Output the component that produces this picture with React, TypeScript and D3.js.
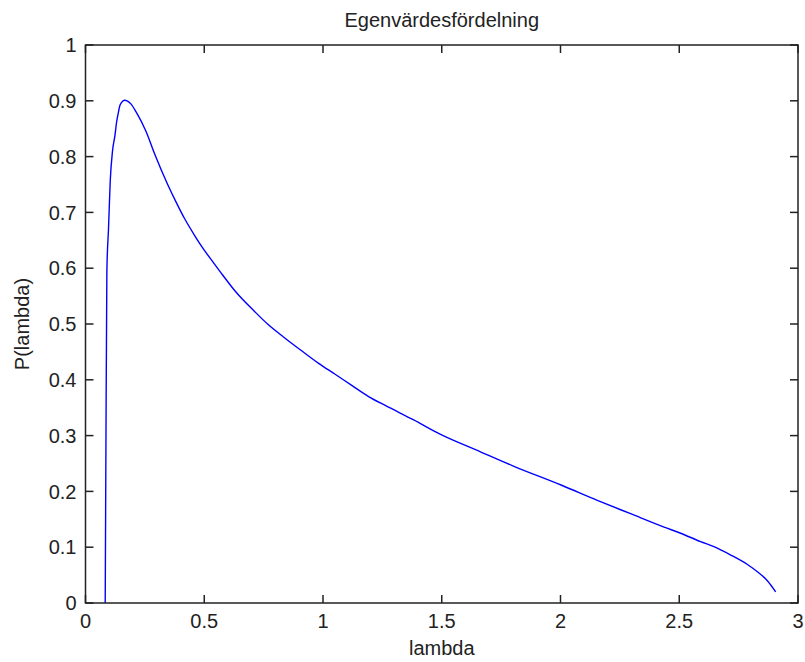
import * as d3 from 'd3';

// eigenvalue distribution
const LAMBDA = [
  0.083, 0.086, 0.09, 0.097, 0.104, 0.114, 0.124, 0.131, 0.138, 0.145, 0.156, 0.166, 0.175,
  0.192, 0.213, 0.255, 0.29, 0.346, 0.382, 0.417, 0.459, 0.494, 0.537, 0.579, 0.628, 0.713,
  0.769, 0.839, 0.91, 0.98, 1.051, 1.121, 1.192, 1.262, 1.382, 1.495, 1.663, 1.804, 2.005,
  2.155, 2.295, 2.436, 2.506, 2.59, 2.646, 2.717, 2.787, 2.829, 2.871, 2.906,
];
const P = [
  0, 0.28, 0.595, 0.672, 0.755, 0.811, 0.838, 0.862, 0.878, 0.892, 0.899, 0.901, 0.9,
  0.894, 0.88, 0.845, 0.806, 0.75, 0.718, 0.689, 0.659, 0.636, 0.611, 0.587, 0.56, 0.522,
  0.499, 0.475, 0.452, 0.43, 0.41, 0.39, 0.37, 0.354, 0.328, 0.302, 0.271, 0.245, 0.211,
  0.184, 0.16, 0.136, 0.125, 0.11, 0.101, 0.086, 0.069, 0.056, 0.04, 0.02,
];
const X_TICKS = [0, 0.5, 1, 1.5, 2, 2.5, 3];
const Y_TICKS = [0, 0.1, 0.2, 0.3, 0.4, 0.5, 0.6, 0.7, 0.8, 0.9, 1];

const TITLE = 'Egenvärdesfördelning';
const X_LABEL = 'lambda';
const Y_LABEL = 'P(lambda)';

const W = 805;
const H = 662;
const FONT = 'Liberation Sans, Arial, sans-serif';
const INK = '#222';

export default function App() {
  const x = d3.scaleLinear().domain([0, 3]).range([85.5, 798]);
  const y = d3.scaleLinear().domain([0, 1]).range([603, 45]);
  const [x0, x1] = x.range();
  const [y0, y1] = y.range();

  const line = d3
    .line<number>()
    .x((_, i) => x(LAMBDA[i]))
    .y((d) => y(d))
    .curve(d3.curveMonotoneX);

  const fmt = (v: number) => String(+v.toFixed(1));
  const tick = 8;

  return (
    <div style={{ position: 'absolute', left: 0, top: 0 }}>
      <svg width={W} height={H} style={{ display: 'block', background: '#fff' }}>
        <rect width={W} height={H} fill="#fff" />
        <path d={line(P) ?? ''} fill="none" stroke="#0000ff" strokeWidth={1.4} />

        {/* box */}
        <rect
          x={x0}
          y={y1}
          width={x1 - x0}
          height={y0 - y1}
          fill="none"
          stroke={INK}
          strokeWidth={1.5}
        />

        {X_TICKS.map((t) => (
          <g key={'x' + t}>
            <line x1={x(t)} x2={x(t)} y1={y0} y2={y0 - tick} stroke={INK} strokeWidth={1.5} />
            <line x1={x(t)} x2={x(t)} y1={y1} y2={y1 + tick} stroke={INK} strokeWidth={1.5} />
            <text
              x={x(t)}
              y={628}
              textAnchor="middle"
              fontFamily={FONT}
              fontSize={20}
              fill={INK}
            >
              {fmt(t)}
            </text>
          </g>
        ))}

        {Y_TICKS.map((t) => (
          <g key={'y' + t}>
            <line x1={x0} x2={x0 + tick} y1={y(t)} y2={y(t)} stroke={INK} strokeWidth={1.5} />
            <line x1={x1} x2={x1 - tick} y1={y(t)} y2={y(t)} stroke={INK} strokeWidth={1.5} />
            <text
              x={x0 - 9}
              y={y(t)}
              dy="0.36em"
              textAnchor="end"
              fontFamily={FONT}
              fontSize={20}
              fill={INK}
            >
              {fmt(t)}
            </text>
          </g>
        ))}

        <text
          x={(x0 + x1) / 2}
          y={27}
          textAnchor="middle"
          fontFamily={FONT}
          fontSize={20}
          fill={INK}
        >
          {TITLE}
        </text>
        <text
          x={(x0 + x1) / 2}
          y={655}
          textAnchor="middle"
          fontFamily={FONT}
          fontSize={20}
          fill={INK}
        >
          {X_LABEL}
        </text>
        <text
          transform={`translate(29,${(y0 + y1) / 2}) rotate(-90)`}
          textAnchor="middle"
          fontFamily={FONT}
          fontSize={20}
          fill={INK}
        >
          {Y_LABEL}
        </text>
      </svg>
    </div>
  );
}
